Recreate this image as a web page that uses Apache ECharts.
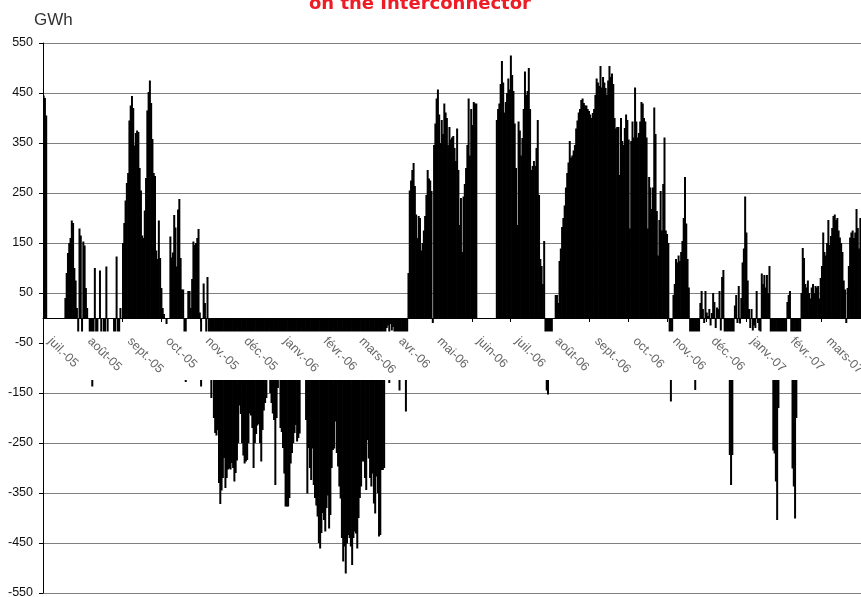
<!DOCTYPE html>
<html>
<head>
<meta charset="utf-8">
<script src="https://cdn.jsdelivr.net/npm/echarts@6/dist/echarts.min.js"></script>
<style>
  html, body { margin: 0; padding: 0; background: #fff; }
  #chart { width: 861px; height: 597px; }
</style>
</head>
<body>
<div id="chart"></div>
<script>
// daily net flow on the Interconnector, GWh (one value per day)
const monthLabels = ['juil.-05', 'août-05', 'sept.-05', 'oct.-05', 'nov.-05', 'déc.-05',
  'janv.-06', 'févr.-06', 'mars-06', 'avr.-06', 'mai-06', 'juin-06', 'juil.-06', 'août-06',
  'sept.-06', 'oct.-06', 'nov.-06', 'déc.-06', 'janv.-07', 'févr.-07', 'mars-07']

const jul05 = [445, 440, 405, 0, 0, 0, 0, 0, 0, 0, 0, 0, 0, 0, 0, 0, 0, 40, 90, 130, 150, 160, 195, 190, 100, 75, 20, -50, 179, 165, -50]
const aug05 = [153, 145, 60, 20, 0, -60, -70, -137, -60, 100, -60, -50, 0, 95, -60, 0, -50, -60, 103, -40, 0, 0, 0, 0, -50, -60, 123, -60, -40, 20, 0]
const sep05 = [150, 190, 235, 270, 290, 395, 425, 444, 420, 345, 370, 375, 372, 300, 255, 165, 160, 215, 280, 415, 452, 475, 430, 358, 290, 284, 135, 118, 195, 120]
const oct05 = [60, 20, 8, 0, -12, 0, 0, 163, 121, 131, 206, 181, 103, 217, 238, 120, 57, 57, -50, -128, 0, 54, 54, 20, 78, 153, 146, 150, 160, 178, 11]
const nov05 = [-137, 0, 69, 30, -40, 82, -40, -60, -160, -100, -200, -230, -235, -224, -330, -372, -345, -320, -280, -340, -320, -303, -301, -303, -290, -300, -327, -310, -285, -250]
const dec05 = [-175, -192, -250, -275, -291, -287, -284, -250, -191, -195, -220, -300, -250, -232, -215, -212, -250, -287, -224, -185, -170, -160, -100, -100, -150, -170, -191, -204, -334, -200, -140]
const jan06 = [-110, -220, -228, -260, -311, -377, -377, -377, -360, -291, -270, -250, -230, -214, -247, -240, -231, -90, -80, -100, -110, -204, -351, -260, -300, -324, -261, -334, -360, -375, -397]
const feb06 = [-450, -461, -430, -390, -404, -427, -380, -355, -421, -394, -300, -264, -261, -207, -270, -297, -337, -361, -440, -487, -457, -511, -451, -434, -440, -457, -494, -440]
const mar06 = [-427, -431, -461, -400, -360, -337, -287, -287, -320, -344, -244, -281, -320, -337, -311, -371, -391, -317, -350, -437, -434, -304, -304, -300, -80, -20, -15, -130, -12, -25, -18]
const apr06 = [-40, -80, -90, -70, -145, -80, -60, -90, -70, -187, -70, 90, 255, 275, 296, 310, 264, 207, 160, 204, 200, 135, 150, 175, 204, 246, 296, 279, 275, 254]
const may06 = [-10, 346, 389, 439, 457, 407, 350, 396, 368, 429, 411, 400, 346, 382, 357, 361, 364, 340, 314, 379, 296, 186, 240, 132, 243, 268, 300, 346, 439, 325, 418]
const jun06 = [386, 432, 429, 429, 0, 0, 0, 0, 0, 0, 0, 0, 0, 0, 0, 0, 0, 0, 0, 396, 418, 429, 468, 514, 471, 411, 432, 450, 479, 457]
const jul06 = [525, 486, 454, 389, 300, 186, 393, 375, 325, 360, 418, 493, 446, 454, 500, 418, 296, 304, 314, 304, 340, 396, 246, 118, 104, 68, 154, -60, -145, -153, -80]
const aug06 = [-50, -40, 0, 0, 46, 46, 30, 114, 139, 182, 200, 225, 261, 290, 311, 354, 321, 325, 335, 346, 379, 395, 411, 418, 436, 439, 430, 425, 425, 418, 414]
const sep06 = [407, 400, 410, 418, 446, 479, 471, 464, 504, 461, 482, 471, 460, 446, 475, 504, 482, 489, 468, 400, 379, 382, 382, 286, 400, 354, 346, 380, 407, 396]
const oct06 = [357, 179, 354, 393, 361, 461, 393, 361, 370, 393, 432, 429, 400, 393, 361, 179, 282, 261, 218, 261, 421, 368, 214, 125, 196, 254, 175, 268, 361, 175, 168]
const nov06 = [150, -60, -167, -70, 46, 68, 118, 111, 125, 114, 132, 154, 200, 282, 189, 118, 61, -40, -60, -60, -50, -144, -60, -50, -30, 30, 54, 18, -10, 54]
const dec06 = [11, 4, 18, -15, 10, 50, 32, -20, 21, 18, 54, -25, 82, 96, -60, -70, -50, -60, -274, -334, -274, -60, 25, 46, -10, 64, -11, 40, 111, 139, 243]
const jan07 = [171, 75, 18, -20, 18, -25, -15, -20, 54, -10, -25, -30, 89, 68, 86, 61, 86, 50, 104, -60, -70, -265, -271, -327, -404, -180, -70, -60, -80, -60, -50]
const feb07 = [-40, 32, 46, 54, -60, -301, -337, -401, -200, -70, -60, -50, 50, 140, 120, 68, 61, 75, 50, 39, 61, 68, 50, 64, 61, 64, 39, 80]
const mar07 = [104, 171, 132, 125, 150, 196, 146, 164, 180, 204, 207, 196, 200, 175, 161, 150, 132, 75, 57, -10, 60, 104, 161, 171, 175, 160, 171, 218, 180, 139, 200]

const yTicks = { min: -550, max: 550, step: 100 }

const months = [jul05, aug05, sep05, oct05, nov05, dec05, jan06, feb06, mar06, apr06, may06,
  jun06, jul06, aug06, sep06, oct06, nov06, dec06, jan07, feb07, mar07]

// one category per day; only the first day of each month carries a label
const cats = []
const values = []
months.forEach((m, mi) => {
  m.forEach((v, di) => {
    cats.push(di === 0 ? monthLabels[mi] : '')
    values.push(v)
  })
})
const isMonthStart = (idx) => cats[idx] !== ''

const chart = echarts.init(document.getElementById('chart'), null, { renderer: 'canvas' })

const plotTop = 43
const zeroY = 318

chart.setOption({
  animation: false,
  backgroundColor: '#fff',
  title: {
    text: 'on the Interconnector',
    left: 309,
    top: -5,
    padding: 0,
    textStyle: { color: '#ee1c25', fontSize: 18, fontWeight: 'bold', fontFamily: 'DejaVu Sans' },
  },
  grid: [
    // the plot itself
    { left: 43, right: 0, top: plotTop, bottom: 4, containLabel: false, outerBoundsMode: 'none' },
    // a copy ending at the zero line, only used to hang the month labels there
    { left: 43, right: 0, top: plotTop, height: zeroY - plotTop, containLabel: false, outerBoundsMode: 'none' },
  ],
  xAxis: [
    {
      gridIndex: 0,
      type: 'category',
      data: cats,
      axisLine: { show: false },
      axisTick: { show: false },
      axisLabel: { show: false },
      splitLine: { show: false },
    },
    {
      gridIndex: 1,
      type: 'category',
      data: cats,
      position: 'bottom',
      z: 10,
      axisLine: { show: true, lineStyle: { color: '#000', width: 1 } },
      axisTick: { show: true, length: 4, interval: isMonthStart, lineStyle: { color: '#000' } },
      axisLabel: {
        interval: isMonthStart,
        rotate: -45,
        margin: 15,
        padding: [0, 0, 0, 9],
        color: '#666',
        fontSize: 12.5,
        fontFamily: 'Liberation Sans',
      },
      splitLine: { show: false },
    },
  ],
  yAxis: [
    {
      gridIndex: 0,
      type: 'value',
      min: yTicks.min,
      max: yTicks.max,
      interval: yTicks.step,
      axisLine: { show: true, lineStyle: { color: '#000' } },
      axisTick: { show: true, length: 4, lineStyle: { color: '#000' } },
      axisLabel: { color: '#111', fontSize: 12.5, fontFamily: 'Liberation Sans', margin: 10 },
      splitLine: { show: true, lineStyle: { color: '#808080', width: 1 } },
    },
    { gridIndex: 1, type: 'value', min: 0, max: 1, show: false },
  ],
  series: [
    {
      type: 'bar',
      xAxisIndex: 0,
      yAxisIndex: 0,
      data: values,
      barWidth: 2,
      itemStyle: { color: '#000' },
      z: 2,
    },
  ],
})

// Excel drew the category labels on an opaque band just under the zero line
const bandTop = chart.convertToPixel({ yAxisIndex: 0 }, -27)
const bandBottom = chart.convertToPixel({ yAxisIndex: 0 }, -124)
chart.setOption({
  graphic: [
    {
      type: 'rect',
      z: 5,
      shape: { x: 44, y: bandTop, width: 861 - 44, height: bandBottom - bandTop },
      style: { fill: '#fff' },
      silent: true,
    },
    {
      type: 'text',
      left: 34,
      top: 12,
      style: { text: 'GWh', fill: '#333', fontSize: 17, fontFamily: 'Liberation Sans' },
    },
  ],
})
</script>
</body>
</html>
